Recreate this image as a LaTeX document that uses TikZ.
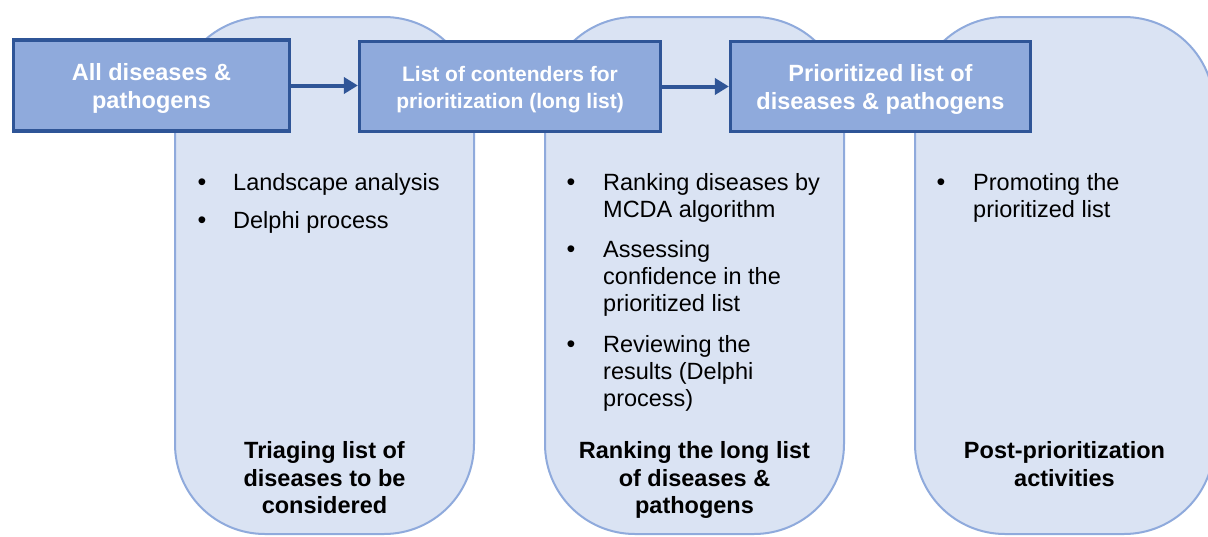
\documentclass[tikz,border=0pt]{standalone}
\usepackage{fontspec}
\setmainfont{Liberation Sans}
\usetikzlibrary{arrows.meta}
\definecolor{panelfill}{HTML}{DAE3F3}
\definecolor{paneledge}{HTML}{8FAADC}
\definecolor{boxfill}{HTML}{8FAADC}
\definecolor{boxedge}{HTML}{2F5597}
\begin{document}
\begin{tikzpicture}[x=1pt,y=-1pt,
 panel/.style={draw=paneledge, fill=panelfill, line width=2pt, rounded corners=90pt, minimum width=299pt, minimum height=517pt, inner sep=0pt},
 stage/.style={draw=boxedge, fill=boxfill, line width=3.2pt, text=white, font=\fontsize{23.5}{28}\selectfont\bfseries, align=center, inner sep=0pt},
 flow/.style={draw=boxedge, line width=4pt, -{Triangle[length=14pt,width=16pt]}},
 item/.style={anchor=north west, inner sep=0pt, align=left, font=\fontsize{23.5}{27}\selectfont},
 dot/.style={anchor=base, inner sep=0pt, font=\fontsize{25}{27}\selectfont},
 phase/.style={inner sep=0pt, align=center, font=\fontsize{23.5}{27.5}\selectfont\bfseries}]
\useasboundingbox (0,0) rectangle (1208,536);
\clip (0,0) rectangle (1208,536);
\fill[white] (0,0) rectangle (1208,536);

% panels
\node[panel] (p1) at (324.5,275.5) {};
\node[panel] (p2) at (694.5,275.5) {};
\node[panel] (p3) at (1064.5,275.5) {};

% stage boxes
\node[stage, minimum width=276pt, minimum height=91pt] (b1) at (151.5,85.5)
  {\rule{0pt}{23pt}All diseases \&\\pathogens};
\node[stage, minimum width=301pt, minimum height=90pt, font=\fontsize{21}{26.5}\selectfont\bfseries] (b2) at (510,86.5)
  {\rule{0pt}{21pt}List of contenders for\\prioritization (long list)};
\node[stage, minimum width=300pt, minimum height=90pt] (b3) at (880.5,86.5)
  {\rule{0pt}{23pt}Prioritized list of\\diseases \& pathogens};

\draw[flow] (b1.east) -- (b1.east -| b2.west);
\draw[flow] (b2.east) -- (b2.east -| b3.west);

% panel 1 bullets
\node[dot] (d11) at (202,190) {•};
\node[item] (i11) at (233,173) {Landscape analysis};
\node[dot] (d12) at (202,228) {•};
\node[item] (i12) at (233,211) {Delphi process};

% panel 2 bullets
\node[dot] (d21) at (571,190) {•};
\node[item] (i21) at (603,173) {Ranking diseases by\\MCDA algorithm};
\node[dot] (d22) at (571,257) {•};
\node[item] (i22) at (603,240) {Assessing\\confidence in the\\prioritized list};
\node[dot] (d23) at (571,352) {•};
\node[item] (i23) at (603,335) {Reviewing the\\results (Delphi\\process)};

% panel 3 bullets
\node[dot] (d31) at (941,190) {•};
\node[item] (i31) at (973,173) {Promoting the\\prioritized list};

% phase labels
\node[phase] (l1) at (324.5,478) {Triaging list of\\diseases to be\\considered};
\node[phase] (l2) at (694.5,480) {Ranking the long list\\of diseases \&\\pathogens};
\node[phase] (l3) at (1064.5,464) {Post-prioritization\\activities};
\end{tikzpicture}
\end{document}
